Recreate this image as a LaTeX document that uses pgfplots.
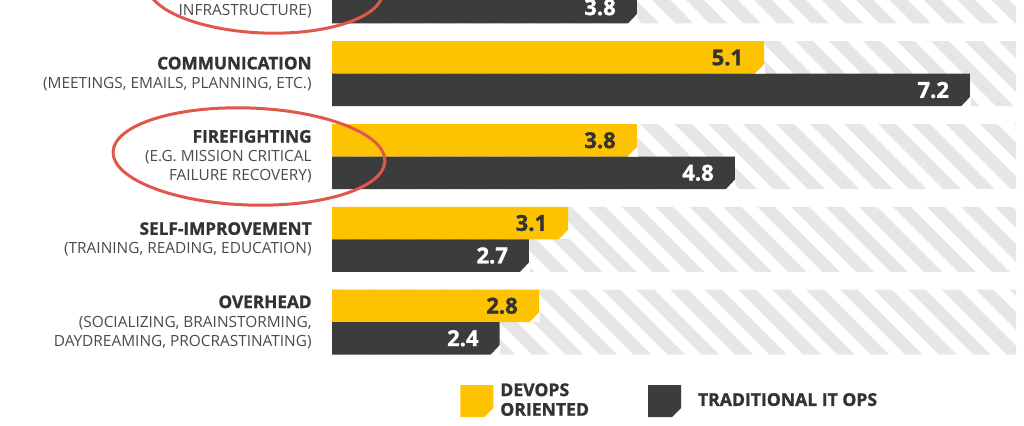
\documentclass[border=0pt]{standalone}
\usepackage{fontspec}
\setmainfont{Open Sans}
\newfontfamily\heavy{Open Sans}[BoldFeatures={FakeBold=1.3}]
\usepackage{pgfplots}
\pgfplotsset{compat=1.18}
\usetikzlibrary{patterns.meta}
\definecolor{yel}{HTML}{FDC300}
\definecolor{drk}{HTML}{3C3C3C}
\definecolor{txt}{HTML}{333333}
\definecolor{subc}{HTML}{4A4A4A}
\definecolor{hatch}{HTML}{E6E6E6}
\definecolor{circ}{HTML}{E2574C}
\pgfdeclareplotmark{chamY}{%
  \pgfpathmoveto{\pgfqpoint{0.4pt}{0pt}}%
  \pgfpathlineto{\pgfqpoint{0.4pt}{5pt}}%
  \pgfpathlineto{\pgfqpoint{-4.6pt}{0pt}}%
  \pgfpathclose\pgfusepathqfill}
\pgfdeclareplotmark{chamD}{%
  \pgfpathmoveto{\pgfqpoint{0.4pt}{-16.55pt}}%
  \pgfpathlineto{\pgfqpoint{0.4pt}{-11.25pt}}%
  \pgfpathlineto{\pgfqpoint{-4.6pt}{-16.55pt}}%
  \pgfpathclose\pgfusepathqfill}
\newcommand{\hd}[1]{{\heavy\bfseries\color{txt}\fontsize{8.6}{9.5}\selectfont #1}}
\begin{document}
\begin{tikzpicture}
\begin{axis}[
  x=49pt, y=41.375pt,
  xmin=0.69, xmax=7.67, ymin=-0.5, ymax=4.5,
  axis line style={draw=none},
  xtick=\empty,
  ytick={0,1,2,3,4},
  yticklabels={
    {\hd{OVERHEAD}\\(SOCIALIZING, BRAINSTORMING,\\DAYDREAMING, PROCRASTINATING)},
    {\hd{SELF-IMPROVEMENT}\\(TRAINING, READING, EDUCATION)},
    {\hd{FIREFIGHTING}\\(E.G. MISSION CRITICAL\\FAILURE RECOVERY)},
    {\hd{COMMUNICATION}\\(MEETINGS, EMAILS, PLANNING, ETC.)},
    {\hd{INFRASTRUCTURE IMPROVEMENT}\\(E.G. AUTOMATING, IMPROVING\\INFRASTRUCTURE)}},
  major tick length=0pt,
  yticklabel style={align=right, anchor=east, inner sep=0pt, xshift=-10pt,
    text=subc, font=\fontsize{7.7}{9.5}\selectfont},
  clip mode=individual,
  legend style={at={(axis description cs:0.187,-0.091)}, anchor=west,
    draw=none, fill=none, inner sep=0pt, legend columns=2,
    nodes={inner sep=0pt},
    font=\heavy\bfseries\fontsize{8.8}{9.8}\selectfont, text=txt,
    cells={align=left, anchor=west},
    /tikz/every odd column/.append style={column sep=3.5pt},
    /tikz/every even column/.append style={column sep=29.5pt}},
]
% hatched background bands
\addplot[xbar, bar width=32.5pt, bar shift=0pt, draw=none,
  pattern={Lines[angle=-45,distance=12pt,line width=6.3pt]}, pattern color=hatch,
  forget plot]
  coordinates {(9,0) (9,1) (9,2) (9,3) (9,4)};
% DevOps oriented
\addplot[xbar, bar width=16.25pt, bar shift=8.125pt, fill=yel, draw=none,
  point meta=explicit symbolic, nodes near coords,
  nodes near coords style={anchor=east, xshift=-7pt, yshift=8.125pt, text=txt,
    font=\heavy\bfseries\fontsize{11}{12}\selectfont},
  legend image code/.code={\fill[yel] (0pt,-8pt) -- (0pt,8pt) -- (16.5pt,8pt)
    -- (16.5pt,-3.5pt) -- (12pt,-8pt) -- cycle;}]
  coordinates {(5.7,4)[5.7] (5.1,3)[5.1] (3.8,2)[3.8] (3.1,1)[3.1] (2.8,0)[2.8]};
\addlegendentry{DEVOPS\\ORIENTED}
% Traditional IT ops
\addplot[xbar, bar width=16.25pt, bar shift=-8.125pt, fill=drk, draw=none,
  point meta=explicit symbolic, nodes near coords,
  nodes near coords style={anchor=east, xshift=-7pt, yshift=-8.125pt, text=white,
    font=\heavy\bfseries\fontsize{11}{12}\selectfont},
  legend image code/.code={\fill[drk] (0pt,-8pt) -- (0pt,8pt) -- (16.5pt,8pt)
    -- (16.5pt,-3.5pt) -- (12pt,-8pt) -- cycle;}]
  coordinates {(3.8,4)[3.8] (7.2,3)[7.2] (4.8,2)[4.8] (2.7,1)[2.7] (2.4,0)[2.4]};
\addlegendentry{\hspace{5pt}TRADITIONAL IT OPS}
% chamfered bar ends
\addplot[only marks, mark=chamY, mark options={fill=white, draw=none}, forget plot]
  coordinates {(5.7,4) (5.1,3) (3.8,2) (3.1,1) (2.8,0)};
\addplot[only marks, mark=chamD, mark options={fill=white, draw=none}, forget plot]
  coordinates {(3.8,4) (7.2,3) (4.8,2) (2.7,1) (2.4,0)};
% annotation ellipses
\draw[circ, line width=1.5pt] (axis cs:-0.157,2.0) ellipse [x radius=68pt, y radius=24.25pt, rotate=-2];
\draw[circ, line width=1.5pt] (axis cs:0.006,4.036) ellipse [x radius=59pt, y radius=22.5pt, rotate=-2];
\coordinate (bbSW) at (axis cs:-2.6978,-1.2447);
\coordinate (bbNE) at (axis cs:7.7512,3.8912);
\end{axis}
\pgfresetboundingbox
\path[use as bounding box] (bbSW) rectangle (bbNE);
\end{tikzpicture}
\end{document}
